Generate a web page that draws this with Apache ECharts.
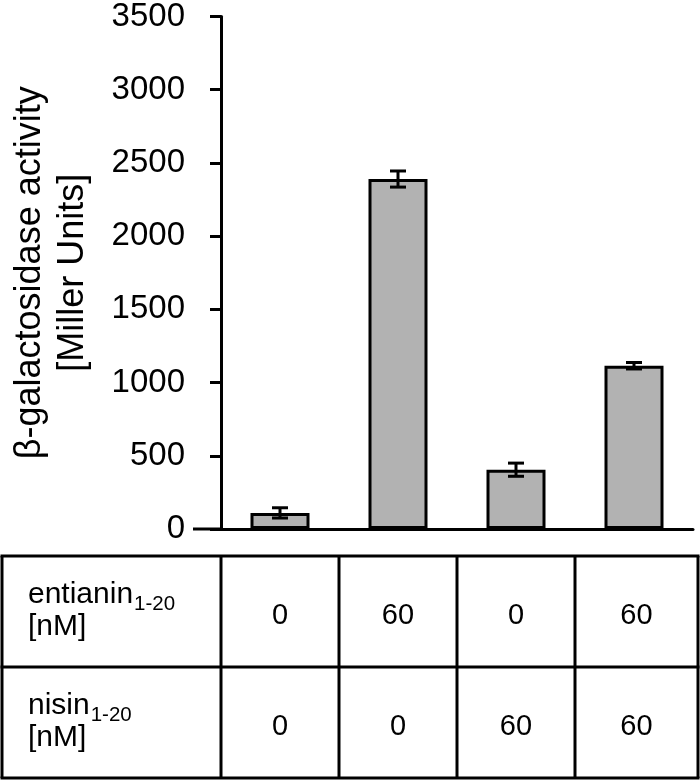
<!DOCTYPE html>
<html>
<head>
<meta charset="utf-8">
<script src="https://cdn.jsdelivr.net/npm/echarts@6/dist/echarts.min.js"></script>
<style>
html,body{margin:0;padding:0;background:#fff;}
#chart{width:700px;height:782px;}
</style>
</head>
<body>
<div id="chart"></div>
<script>
// ---- data ----
var categories = ['A', 'B', 'C', 'D'];
var values = [110, 2390, 405, 1115];
var errors = [35, 55, 45, 22];
var yTicks = [0, 500, 1000, 1500, 2000, 2500, 3000, 3500];
var rowLabels = [
  {name: 'entianin', sub: '1-20', unit: '[nM]'},
  {name: 'nisin', sub: '1-20', unit: '[nM]'}
];
var entianinConc = ['0', '60', '0', '60'];
var nisinConc = ['0', '0', '60', '60'];
var tableRows = [entianinConc, nisinConc];

var FONT = '"Liberation Sans", Arial, sans-serif';
var chart = echarts.init(document.getElementById('chart'), null, {renderer: 'canvas'});

var option = {
  backgroundColor: '#fff',
  animation: false,
  grid: {left: 221, right: 7, top: 14, bottom: 253, containLabel: false},
  xAxis: {
    type: 'category',
    data: categories,
    axisLine: {show: true, lineStyle: {color: '#000', width: 3}},
    axisTick: {show: false},
    axisLabel: {show: false},
    splitLine: {show: false}
  },
  yAxis: {
    type: 'value',
    min: yTicks[0],
    max: yTicks[yTicks.length - 1],
    interval: 500,
    name: 'β-galactosidase activity\n[Miller Units]',
    nameLocation: 'middle',
    nameGap: 126,
    nameTextStyle: {fontFamily: FONT, fontSize: 36, color: '#000', lineHeight: 43},
    axisLine: {show: true, lineStyle: {color: '#000', width: 3}},
    axisTick: {show: true, inside: false, length: 11, lineStyle: {color: '#000', width: 3}},
    axisLabel: {fontFamily: FONT, fontSize: 33, color: '#000', margin: 36,
      formatter: function (v) { return String(v); }},
    splitLine: {show: false}
  },
  series: [
    {
      type: 'bar',
      data: values,
      barWidth: 59,
      itemStyle: {color: '#b2b2b2', borderColor: '#000', borderWidth: 3},
      z: 2
    },
    {
      type: 'custom',
      data: values.map(function (v, i) { return [i, v - errors[i], v + errors[i]]; }),
      renderItem: function (params, api) {
        var x = api.value(0);
        var lo = api.coord([x, api.value(1)]);
        var hi = api.coord([x, api.value(2)]);
        var hw = 8;
        var st = {stroke: '#000', lineWidth: 3};
        return {
          type: 'group',
          children: [
            {type: 'line', shape: {x1: lo[0], y1: lo[1], x2: hi[0], y2: hi[1]}, style: st},
            {type: 'line', shape: {x1: lo[0] - hw, y1: lo[1], x2: lo[0] + hw, y2: lo[1]}, style: st},
            {type: 'line', shape: {x1: hi[0] - hw, y1: hi[1], x2: hi[0] + hw, y2: hi[1]}, style: st}
          ]
        };
      },
      z: 3
    }
  ]
};
chart.setOption(option);

var measureCtx = document.createElement('canvas').getContext('2d');
function textWidth(str, size) {
  measureCtx.font = size + 'px ' + FONT;
  return measureCtx.measureText(str).width;
}

// ---- table & baseline extension built from axis coordinates ----
function buildGraphics() {
  var n = categories.length;
  var zero = chart.convertToPixel({gridIndex: 0}, [0, 0]);
  var c0 = chart.convertToPixel({xAxisIndex: 0}, 0);
  var c1 = chart.convertToPixel({xAxisIndex: 0}, 1);
  var step = c1 - c0;
  var bounds = [2];
  for (var i = 0; i <= n; i++) bounds.push(c0 - step / 2 + i * step);
  bounds[bounds.length - 1] = 698;
  var rowTops = [556, 667, 778];
  var els = [];
  var st = {stroke: '#000', lineWidth: 3};
  els.push({type: 'line', shape: {x1: 193, y1: zero[1], x2: bounds[1], y2: zero[1]}, style: st});
  rowTops.forEach(function (y) {
    els.push({type: 'line', shape: {x1: bounds[0] - 1.5, y1: y, x2: bounds[bounds.length - 1] + 1.5, y2: y}, style: st});
  });
  bounds.forEach(function (x) {
    els.push({type: 'line', shape: {x1: x, y1: rowTops[0], x2: x, y2: rowTops[2]}, style: st});
  });
  var MAIN = 30, SUB = 20.5, lx = 28;
  for (var r = 0; r < rowLabels.length; r++) {
    var yc = (rowTops[r] + rowTops[r + 1]) / 2;
    var base1 = yc - 6.5, base2 = yc + 25.5;
    els.push({type: 'text', x: lx, y: base1 - 0.35 * MAIN,
      style: {text: rowLabels[r].name, fontFamily: FONT, fontSize: MAIN, fill: '#000', align: 'left', verticalAlign: 'middle'}});
    els.push({type: 'text', x: lx + textWidth(rowLabels[r].name, MAIN) + 1, y: base1 + 7 - 0.35 * SUB,
      style: {text: rowLabels[r].sub, fontFamily: FONT, fontSize: SUB, fill: '#000', align: 'left', verticalAlign: 'middle'}});
    els.push({type: 'text', x: lx, y: base2 - 0.35 * MAIN,
      style: {text: rowLabels[r].unit, fontFamily: FONT, fontSize: MAIN, fill: '#000', align: 'left', verticalAlign: 'middle'}});
    for (var c = 0; c < n; c++) {
      els.push({
        type: 'text',
        x: (bounds[c + 1] + bounds[c + 2]) / 2, y: yc + 4,
        style: {text: tableRows[r][c], fontFamily: FONT, fontSize: 29, fill: '#000', align: 'center', verticalAlign: 'middle'}
      });
    }
  }
  chart.setOption({graphic: {elements: els}});
}
buildGraphics();
</script>
</body>
</html>
